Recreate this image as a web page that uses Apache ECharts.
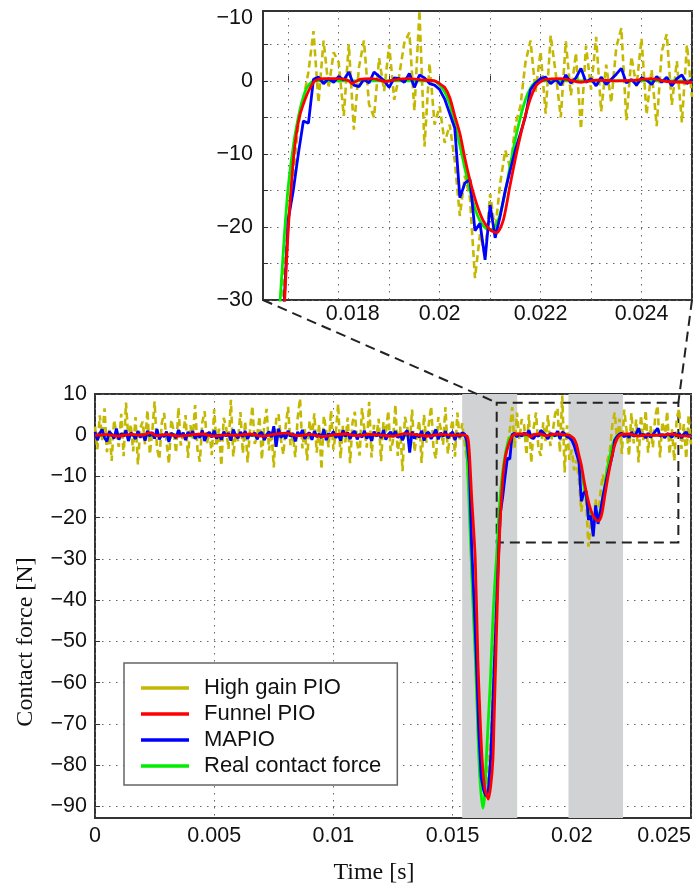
<!DOCTYPE html>
<html><head><meta charset="utf-8">
<script src="https://cdn.jsdelivr.net/npm/echarts@6/dist/echarts.min.js"></script>
<style>html,body{margin:0;padding:0;background:#fff}#c{width:697px;height:887px}</style>
</head><body><div id="c"></div>
<script>
// ---------------- data ----------------
const seriesNames = ['High gain PIO', 'Funnel PIO', 'MAPIO', 'Real contact force'];
// noisy observers sampled every 0.1 ms from t = 0
const sampleStart = 0, samplePeriod = 0.0001;
const highGainPIO = [
 2.1,-3.4,4.8,-1.2,6.5,-4.1,1.3,-6.2,3.7,0.4,
 -2.8,5.2,-5.1,7.9,-0.9,2.6,-3.9,4.4,-7.1,1.8,
 3.3,-2.2,6.1,-4.6,0.7,8.2,-3.1,-5.8,2.9,5.4,
 -1.6,-6.9,3.8,1.1,-4.3,6.7,-2.5,0.2,4.9,-5.5,
 2.4,-0.8,7.3,-3.6,-6.4,3.1,5.8,-1.9,0.9,-4.8,
 6.3,-2.7,1.6,-7.4,4.2,2.0,-3.3,8.6,-5.2,0.5,
 -1.4,5.6,-4.4,3.4,-6.6,1.2,7.1,-2.1,-0.3,4.6,
 -5.9,2.8,6.4,-3.7,0.8,-7.8,3.9,5.1,-1.1,-4.7,
 2.2,6.9,-2.4,0.1,-5.3,4.1,8.9,-3.2,1.5,-6.1,
 3.6,-0.6,5.3,-4.2,2.7,-8.3,4.7,1.0,-2.9,6.0,
 -3.5,0.6,7.6,-5.6,2.3,-1.7,4.3,-6.8,3.0,5.7,
 -2.0,-4.9,6.6,1.4,-3.0,8.1,-5.4,2.5,-0.4,4.0,
 -6.3,3.2,0.3,5.9,-3.8,-1.3,7.4,-5.0,2.1,-8.7,
 4.5,1.9,-2.6,6.2,-4.0,0.0,3.5,-6.7,5.0,-1.8,
 2.6,7.0,-3.4,-5.7,4.4,1.7,-2.3,6.8,-4.5,0.6,
 3.8,-5.2,5.5,-1.5,2.9,-1.8,-6,-14,-32,-45,
 -60,-76,-84,-81,-85,-80,-74,-60,-44,-28,
 -19,-13,-6,-2.5,1.2,6.8,-3.0,5.5,-1.0,3.9,
 2.5,-4.8,5.0,-6.7,1.8,5.5,-3.2,-5.0,3.1,-1.4,
 4.9,-2.6,0.8,5.2,6.6,-4.1,9.6,-9.0,2.4,-6.0,
 -3.5,-8.5,-6,-11,-18.5,-13,-16,-27,-21,-24,
 -15.5,-20.5,-14,-9.5,-12,-6,-3.5,2.5,5.5,-1.5,
 4.0,-4.5,6.2,1.0,-5.0,5.4,-2.0,3.8,-6.6,4.8,
 -1.2,6.0,-4.2,2.2,-3.0,4.6,7.2,-5.4,3.3,-0.8,
 5.8,-4.6,1.5,-6.2,4.0,6.4,-3.3,2.7,-5.7,4.9,-2.2
];
const mapio = [
 0.8,-1.2,0.5,1.4,-0.6,-1.5,0.9,0.2,-0.8,1.6,
 -1.1,0.4,-0.3,1.2,-1.4,0.6,0.1,-0.9,1.0,-0.5,
 0.3,-1.3,1.1,-0.2,0.7,-0.8,1.5,-1.0,0.2,-0.4,
 0.9,-1.6,0.5,0.1,-0.7,1.3,-0.3,0.6,-1.2,0.8,
 -0.1,1.0,-0.9,0.4,-0.6,1.2,-1.4,0.3,0.7,-0.5,
 1.1,-0.8,0.2,-1.1,0.9,-0.2,0.5,-1.3,1.4,0.0,
 -0.7,0.8,-0.4,1.0,-0.9,0.3,-0.1,0.6,-1.0,0.4,
 0.7,-1.2,0.1,0.9,-0.5,2.2,-2.8,1.6,-0.6,0.3,
 -0.8,1.1,-0.3,0.5,-1.5,0.8,-0.2,1.3,-0.9,0.2,
 0.6,-1.1,1.0,-0.4,0.3,-0.7,1.4,-1.2,0.4,-0.1,
 0.9,-0.6,0.2,-1.3,1.2,-0.3,0.7,-0.9,0.5,1.0,
 -1.0,0.3,-0.5,1.1,-0.8,0.4,-1.4,0.9,-0.2,0.6,
 -0.7,1.3,-1.1,0.2,0.8,-0.4,1.0,-0.6,0.1,-1.2,
 0.5,1.2,-4.2,0.9,-0.8,0.3,-0.5,1.1,-1.3,0.4,
 0.7,-0.9,0.2,1.4,-1.0,0.6,-0.3,1.0,-0.7,0.2,
 0.8,-1.2,0.5,-0.4,0.6,0.3,-1.5,-7,-27,-40,
 -55,-72,-83,-86,-87.5,-86,-78,-63,-48,-33,
 -19,-15,-10,-5.5,-5.8,0.2,0.5,-0.4,0.3,-0.2,
 0.6,0.1,1.2,-0.6,-0.8,0.2,-0.3,1.2,0.6,0.0,
 -0.9,0.4,0.3,-0.2,1.0,-0.9,0.8,0.4,-0.4,-0.6,
 -1.2,-2.5,-4.5,-6.5,-16,-14,-13.5,-20.5,-19.5,-24.5,
 -17,-21.5,-18.5,-15,-12.2,-9.5,-7.2,-4.9,-1.2,-0.3,
 0.3,0.5,-0.4,0.2,-0.6,0.8,-0.3,0.4,1.7,-0.2,
 0.3,-0.7,0.5,-0.5,0.2,0.9,1.7,-0.3,0.2,-0.6,
 0.4,0.1,-0.5,0.6,-0.2,0.5,-0.7,0.3,0.8,-0.4,0.2
];
const funnelTime = [0,0.0005,0.001,0.0015,0.002,0.0023,0.0026,0.003,0.0035,0.004,0.0045,0.005,0.0055,0.006,0.0065,0.007,0.0075,0.008,0.0085,0.009,0.0095,0.01,0.0105,0.011,0.0115,0.012,0.0125,0.013,0.0135,0.014,0.0145,0.015,0.0154,0.01562,0.0157,0.0158,0.01595,0.01606,0.01615,0.01624,0.01635,0.0165,0.0166,0.01669,0.01675,0.01681,0.01687,0.01693,0.01699,0.01704,0.01712,0.01722,0.01733,0.01743,0.01753,0.0177,0.018,0.0182,0.01826,0.01842,0.01866,0.01895,0.01908,0.0194,0.01967,0.0199,0.02,0.0201,0.0202,0.0203,0.0204,0.0205,0.0206,0.02073,0.02086,0.021,0.02113,0.02126,0.02139,0.02152,0.02166,0.02179,0.02192,0.0221,0.0224,0.0228,0.0231,0.0235,0.0239,0.0242,0.0245,0.025];
const funnelPIO = [0.0,0.15,-0.2,0.2,0.0,0.6,-0.1,0.2,-0.2,0.1,0.3,-0.2,0.1,0.0,0.3,-0.2,0.2,0.5,-0.1,0.2,-0.3,0.1,0.3,-0.1,0.2,0.0,-0.2,0.4,0.1,-0.2,0.2,0.0,0.1,-0.3,-4,-15,-30,-54.5,-68,-78.7,-85.5,-88.2,-85,-78.7,-67,-54.5,-42,-30,-21.5,-16.3,-9.5,-5,-2.6,-1.0,0.0,0.3,0.3,0.0,-0.4,0.2,0.3,-0.1,0.1,0.3,0.1,0.0,-0.4,-0.9,-2.3,-4.8,-7.2,-10.6,-13.6,-16.8,-19.1,-20.4,-20.8,-19.1,-14.5,-10,-5.8,-2.6,-0.6,0.2,0.3,-0.2,0.1,0.0,0.1,0.3,-0.1,-0.2];
const realTime = [0,0.0155,0.01558,0.01566,0.01578,0.01587,0.01596,0.01604,0.0161,0.01618,0.01627,0.01635,0.01641,0.01649,0.01658,0.01668,0.01676,0.01684,0.01692,0.017,0.01712,0.01723,0.0173,0.01738,0.01753,0.0199,0.02,0.0201,0.0202,0.0203,0.0204,0.0205,0.0206,0.0207,0.0208,0.0209,0.021,0.0211,0.0212,0.0213,0.0214,0.0215,0.0216,0.0217,0.0218,0.0219,0.022,0.025];
const realForce = [0,0,-2,-12,-30,-43,-55,-68,-78,-86,-90.4,-87,-79,-70,-60,-46,-37,-30,-21.5,-14.5,-8,-4,-2.2,-0.8,0,0,-0.6,-1.5,-3.2,-6,-8.8,-12,-15,-17.5,-19.2,-20.1,-20.4,-20,-18.2,-15.2,-11.5,-8,-5,-2.6,-1,-0.2,0,0];
// shaded contact intervals [start, end] in s
const contactBands = [[0.01540, 0.01771], [0.01986, 0.02215]];
// dashed zoom box in the main plot: time range, force range
const zoomBoxTime = [0.01685, 0.02447];
const zoomBoxForce = [-26.0, 7.9];
// axes
const mainTimeRange = [0, 0.025];
const mainForceRange = [-92.8, 10];
const mainForceTicks = [-90,-80,-70,-60,-50,-40,-30,-20,-10,0,10];
const insetTimeRange = [0.0165, 0.025];
const insetTimeTicks = [0.017,0.018,0.019,0.02,0.021,0.022,0.023,0.024,0.025];
const insetTimeLabels = [0.018,0.02,0.022,0.024];
const insetForceRange = [-30, 9.55];
const insetForceTicks = [-30,-25,-20,-15,-10,-5,0,5];
const insetForceLabels = [-30,-20,-10,0,8.6];
const insetForceLabelText = ['\u221230','\u221220','\u221210','0','\u221210'];

// ---------------- chart ----------------
const SANS = "'Liberation Sans', Arial, sans-serif";
const SERIF = "'Liberation Serif', 'Times New Roman', serif";
const FS = 21.5;
const fmtNum = v => { const a = Math.abs(v); return (v < -1e-12 ? '\u2212' : '') + String(+a.toFixed(4)); };
const sampleTime = highGainPIO.map((_, i) => +(sampleStart + i * samplePeriod).toFixed(6));
const pairs = (xs, ys) => ys.map((y, i) => [xs[i], y]);

const dotted = { show: true, lineStyle: { color: '#666', width: 1, type: [1.5, 5.5] } };
const labelBase = { fontFamily: SANS, fontSize: FS, color: '#111' };
const tickBase = { show: true, inside: true, length: 5, lineStyle: { color: '#333', width: 1 } };

const colors = { 'High gain PIO': '#c4b800', 'Funnel PIO': '#ff0000', 'MAPIO': '#0000ff', 'Real contact force': '#00ee00' };

function mkSeries(g) {
  const base = { type: 'line', xAxisIndex: g, yAxisIndex: g, showSymbol: false, symbol: 'none', animation: false, clip: true, silent: true };
  return [
    Object.assign({}, base, { name: seriesNames[0], data: pairs(sampleTime, highGainPIO), z: 2,
      itemStyle: { color: colors[seriesNames[0]] }, lineStyle: { color: colors[seriesNames[0]], width: 2.6, type: [7, 4] } }),
    Object.assign({}, base, { name: seriesNames[3], data: pairs(realTime, realForce), z: 3, smooth: 0.25,
      itemStyle: { color: colors[seriesNames[3]] }, lineStyle: { color: colors[seriesNames[3]], width: 2.8 } }),
    Object.assign({}, base, { name: seriesNames[2], data: pairs(sampleTime, mapio), z: 4,
      itemStyle: { color: colors[seriesNames[2]] }, lineStyle: { color: colors[seriesNames[2]], width: 2.8 } }),
    Object.assign({}, base, { name: seriesNames[1], data: pairs(funnelTime, funnelPIO), z: 5, smooth: 0.25,
      itemStyle: { color: colors[seriesNames[1]] }, lineStyle: { color: colors[seriesNames[1]], width: 2.8 } })
  ];
}

const chart = echarts.init(document.getElementById('c'), null, { renderer: 'canvas' });
const option = {
  backgroundColor: '#fff',
  animation: false,
  grid: [
    { left: 95, top: 394, width: 596, height: 424, show: true, borderColor: '#333', borderWidth: 2, backgroundColor: '#fff', containLabel: false },
    { left: 263, top: 11, width: 429, height: 289, show: true, borderColor: '#333', borderWidth: 2, backgroundColor: '#fff', containLabel: false }
  ],
  xAxis: [
    { gridIndex: 0, type: 'value', min: mainTimeRange[0], max: mainTimeRange[1], interval: 0.005,
      axisLine: { show: false }, axisTick: tickBase, splitLine: dotted,
      axisLabel: Object.assign({}, labelBase, { margin: 7, alignMaxLabel: 'right', formatter: fmtNum }) },
    { gridIndex: 1, type: 'value', min: insetTimeRange[0], max: insetTimeRange[1],
      axisLine: { show: false }, axisTick: Object.assign({}, tickBase, { customValues: insetTimeTicks }), splitLine: dotted,
      axisLabel: Object.assign({}, labelBase, { margin: 3, customValues: insetTimeLabels,
        formatter: v => Math.abs(v - insetTimeLabels[0]) < 1e-9 ? '{s|' + fmtNum(v) + '}' : fmtNum(v),
        rich: { s: { padding: [0, 0, 0, 28], fontFamily: SANS, fontSize: FS, color: '#111' } } }) }
  ],
  yAxis: [
    { gridIndex: 0, type: 'value', min: mainForceRange[0], max: mainForceRange[1],
      axisLine: { show: false }, axisTick: Object.assign({}, tickBase, { customValues: mainForceTicks }), splitLine: dotted,
      axisLabel: Object.assign({}, labelBase, { margin: 8, customValues: mainForceTicks, formatter: fmtNum }) },
    { gridIndex: 1, type: 'value', min: insetForceRange[0], max: insetForceRange[1],
      axisLine: { show: false }, axisTick: Object.assign({}, tickBase, { customValues: insetForceTicks }), splitLine: dotted,
      axisLabel: Object.assign({}, labelBase, { margin: 10, customValues: insetForceLabels,
        formatter: v => { const i = insetForceLabels.findIndex(l => Math.abs(l - v) < 1e-6); return i >= 0 ? insetForceLabelText[i] : fmtNum(v); } }) }
  ],
  legend: {
    data: seriesNames, orient: 'vertical', left: 124, top: 663, padding: [14, 16, 8, 17],
    itemWidth: 48, itemHeight: 3.5, itemGap: 4, icon: 'rect', selectedMode: false,
    borderColor: '#666', borderWidth: 1.5, backgroundColor: '#fff', borderRadius: 0, z: 20,
    textStyle: { fontFamily: SANS, fontSize: 22, color: '#111', lineHeight: 22, padding: [0, 0, 0, 10] }
  },
  series: [
    { type: 'line', name: 'bands', xAxisIndex: 0, yAxisIndex: 0, data: [], z: 1, silent: true,
      markArea: { silent: true, itemStyle: { color: '#d1d2d4' }, data: contactBands.map(b => [{ xAxis: b[0] }, { xAxis: b[1] }]) } }
  ].concat(mkSeries(0), mkSeries(1), [
    { type: 'line', name: 'zoombox', xAxisIndex: 0, yAxisIndex: 0, data: [], z: 10, silent: true,
      markArea: { silent: true, itemStyle: { color: 'rgba(0,0,0,0)', borderColor: '#222', borderWidth: 2, borderType: [10, 6] },
        data: [[{ xAxis: zoomBoxTime[0], yAxis: zoomBoxForce[1] }, { xAxis: zoomBoxTime[1], yAxis: zoomBoxForce[0] }]] } }
  ])
};
chart.setOption(option);

// connector lines + axis titles
const pInBL = chart.convertToPixel({ gridIndex: 1 }, [insetTimeRange[0], insetForceRange[0]]);
const pInBR = chart.convertToPixel({ gridIndex: 1 }, [insetTimeRange[1], insetForceRange[0]]);
const pBoxTL = chart.convertToPixel({ gridIndex: 0 }, [zoomBoxTime[0], zoomBoxForce[1]]);
const pBoxTR = chart.convertToPixel({ gridIndex: 0 }, [zoomBoxTime[1], zoomBoxForce[1]]);
const dash = { stroke: '#222', lineWidth: 2, lineDash: [10, 6] };
chart.setOption({
  graphic: [
    { type: 'line', z: 50, silent: true, shape: { x1: pInBL[0], y1: pInBL[1], x2: pBoxTL[0], y2: pBoxTL[1] }, style: dash },
    { type: 'line', z: 50, silent: true, shape: { x1: pInBR[0], y1: pInBR[1], x2: pBoxTR[0], y2: pBoxTR[1] }, style: dash },
    { type: 'text', z: 50, silent: true, x: 26, y: 642, rotation: Math.PI / 2,
      style: { text: 'Contact force [N]', fill: '#111', font: '24px ' + SERIF, align: 'center', verticalAlign: 'middle' } },
    { type: 'text', z: 50, silent: true, x: 374, y: 873,
      style: { text: 'Time [s]', fill: '#111', font: '24px ' + SERIF, align: 'center', verticalAlign: 'middle' } }
  ]
});
</script></body></html>
